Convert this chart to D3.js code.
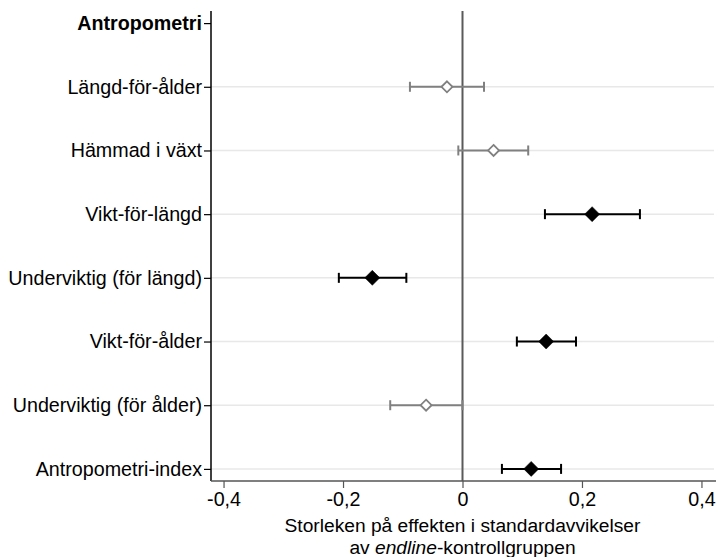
<!DOCTYPE html>
<html><head><meta charset="utf-8">
<script src="https://cdn.jsdelivr.net/npm/d3@7"></script>
<style>body{margin:0;background:#fff}svg{display:block}text{font-family:"Liberation Sans",Arial,sans-serif}</style>
</head><body><svg id="c" width="716" height="557"></svg>
<script>
const labels = ["Antropometri","Längd-för-ålder","Hämmad i växt","Vikt-för-längd","Underviktig (för längd)","Vikt-för-ålder","Underviktig (för ålder)","Antropometri-index"];
const isHeader = [true,false,false,false,false,false,false,false];
const estimates = [null,-0.026,0.052,0.217,-0.151,0.140,-0.061,0.115];
const ciLow = [null,-0.088,-0.007,0.138,-0.207,0.091,-0.121,0.066];
const ciHigh = [null,0.036,0.110,0.297,-0.094,0.190,0.000,0.165];
const significant = [false,false,false,true,true,true,false,true];
const xTicks = [-0.4,-0.2,0,0.2,0.4];
const xTitle1 = "Storleken på effekten i standardavvikelser";

const svg = d3.select("#c");
const L=211, R=714, T=11, B=481;
const x = d3.scaleLinear().domain([-0.421,0.421]).range([L,R]);
const y = d3.scaleLinear().domain([-0.19,7.19]).range([T,B]);
const rows = labels.map((l,i)=>({l,i,h:isHeader[i],e:estimates[i],lo:ciLow[i],hi:ciHigh[i],s:significant[i]}));
const fs = 19.7;

// gridlines
svg.append("g").selectAll("line").data(rows.filter(d=>!d.h)).join("line")
  .attr("x1",L).attr("x2",R).attr("y1",d=>y(d.i)).attr("y2",d=>y(d.i))
  .attr("stroke","#e8e8e8").attr("stroke-width",1.5);

// zero line
svg.append("line").attr("x1",x(0)).attr("x2",x(0)).attr("y1",T).attr("y2",B)
  .attr("stroke","#5a5a5a").attr("stroke-width",2);

// y axis
const yAxis = svg.append("g").attr("transform",`translate(${L},0)`)
  .call(d3.axisLeft(y).tickValues(rows.map(d=>d.i)).tickFormat(i=>labels[i]).tickSize(7).tickPadding(2));
yAxis.select(".domain").attr("d",`M0,${T}V${B}`).attr("stroke","#000").attr("stroke-width",1.5);
yAxis.selectAll(".tick line").attr("stroke","#000").attr("stroke-width",1.2);
yAxis.selectAll(".tick text").attr("font-size",fs).attr("fill","#000").attr("font-family","Liberation Sans, Arial, sans-serif")
  .attr("font-weight",i=>isHeader[i]?"bold":"normal");

// x axis
const xAxis = svg.append("g").attr("transform",`translate(0,${B})`)
  .call(d3.axisBottom(x).tickValues(xTicks).tickFormat(v=>v===0?"0":d3.format(".1f")(v).replace(".",",").replace("−","-")).tickSize(7).tickPadding(4));
xAxis.select(".domain").attr("d",`M${L},0H${R+2}`).attr("stroke","#555").attr("stroke-width",1.5);
xAxis.selectAll(".tick line").attr("stroke","#555").attr("stroke-width",1.2);
xAxis.selectAll(".tick text").attr("font-size",fs).attr("fill","#000").attr("font-family","Liberation Sans, Arial, sans-serif");

// x title
const cx = (L+R)/2;
const tfs = 19.2;
svg.append("text").attr("x",cx).attr("y",532).attr("text-anchor","middle").attr("font-size",tfs).text(xTitle1);
const t2 = svg.append("text").attr("x",cx).attr("y",554).attr("text-anchor","middle").attr("font-size",tfs);
t2.append("tspan").text("av ");
t2.append("tspan").attr("font-style","italic").text("endline");
t2.append("tspan").text("-kontrollgruppen");

// error bars
const data = rows.filter(d=>!d.h);
const col = d=>d.s?"#000":"#808080";
const g = svg.append("g");
g.selectAll("line.ci").data(data).join("line").attr("class","ci")
  .attr("x1",d=>x(d.lo)).attr("x2",d=>x(d.hi)).attr("y1",d=>y(d.i)).attr("y2",d=>y(d.i))
  .attr("stroke",col).attr("stroke-width",2);
["lo","hi"].forEach(k=>{
  g.selectAll("line.cap"+k).data(data).join("line").attr("class","cap"+k)
    .attr("x1",d=>x(d[k])).attr("x2",d=>x(d[k])).attr("y1",d=>y(d.i)-5).attr("y2",d=>y(d.i)+5)
    .attr("stroke",col).attr("stroke-width",2);
});
// markers
const diamond = r=>`M0,${-r}L${r},0L0,${r}L${-r},0Z`;
g.selectAll("path.pt").data(data).join("path").attr("class","pt")
  .attr("transform",d=>`translate(${x(d.e)},${y(d.i)})`)
  .attr("d",d=>d.s?diamond(7.5):diamond(5.5))
  .attr("fill",d=>d.s?"#000":"#fff").attr("stroke",col).attr("stroke-width",d=>d.s?0.5:1.8);
</script></body></html>
